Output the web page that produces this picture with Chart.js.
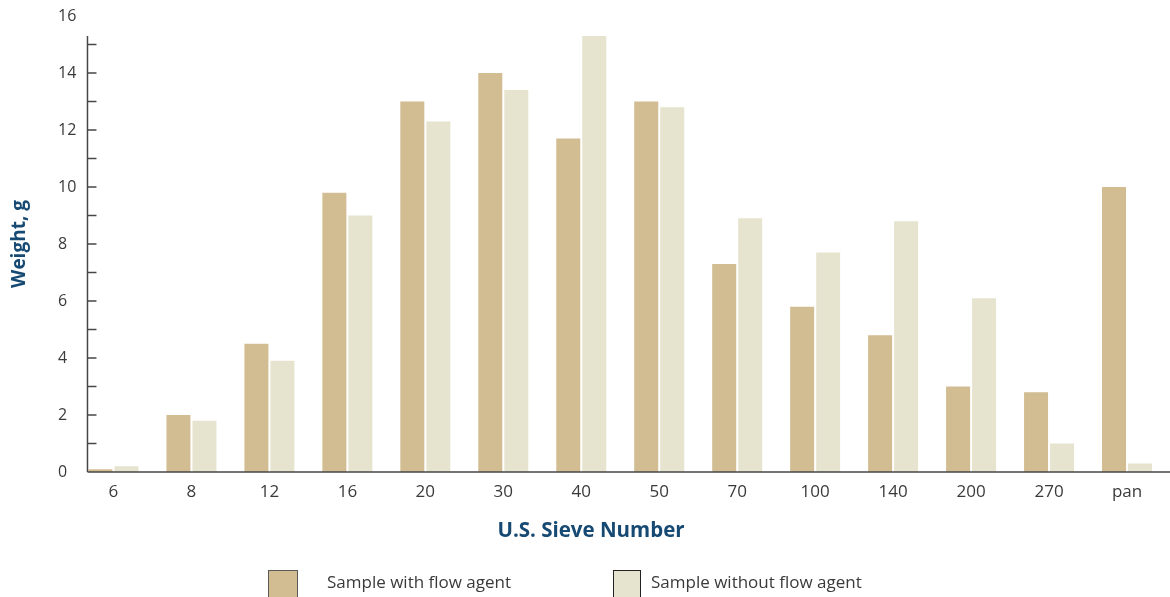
<!DOCTYPE html>
<html>
<head>
<meta charset="utf-8">
<script src="https://cdn.jsdelivr.net/npm/chart.js@4/dist/chart.umd.min.js"></script>
<style>
  html, body { margin: 0; padding: 0; background: #fff; overflow: hidden; }
  #wrap { position: relative; width: 1170px; height: 597px; }
  .legend-item { position: absolute; top: 570px; display: flex; align-items: flex-start;
    font-family: "Open Sans", sans-serif; font-size: 17px; color: #3a3a3a; }
  .legend-box { box-sizing: border-box; height: 30px; }
  .legend-text { line-height: 22px; margin-top: 1px; }
</style>
</head>
<body>
<div id="wrap">
  <canvas id="chart" width="1170" height="597"></canvas>
</div>
<script>
const sieveNumbers = ["6", "8", "12", "16", "20", "30", "40", "50", "70", "100", "140", "200", "270", "pan"];
const withFlowAgent = [0.1, 2.0, 4.5, 9.8, 13.0, 14.0, 11.7, 13.0, 7.3, 5.8, 4.8, 3.0, 2.8, 10.0];
const withoutFlowAgent = [0.2, 1.8, 3.9, 9.0, 12.3, 13.4, 15.3, 12.8, 8.9, 7.7, 8.8, 6.1, 1.0, 0.3];
const seriesNames = ["Sample with flow agent", "Sample without flow agent"];
const seriesColors = ["#d2bc91", "#e6e4ce"];
const xTitle = "U.S. Sieve Number";
const yTitle = "Weight, g";

const NAVY = "#174a73";
const AXIS = "#474747";

// 軸線・目盛り・軸タイトルは自前で描く
const axisPlugin = {
  id: "axisLines",
  afterDatasetsDraw(chart) {
    const { ctx, scales: { y }, chartArea } = chart;
    const first = chart.getDatasetMeta(0).data[0];
    const xLeft = first.x - first.width / 2 - 1;
    const zero = y.getPixelForValue(0);
    const top = y.getPixelForValue(Math.max(...withFlowAgent, ...withoutFlowAgent));

    ctx.save();
    ctx.strokeStyle = AXIS;
    ctx.lineWidth = 1.5;
    ctx.beginPath();
    ctx.moveTo(xLeft, top);
    ctx.lineTo(xLeft, zero);
    ctx.moveTo(xLeft, zero);
    ctx.lineTo(chart.width, zero);
    y.ticks.forEach(t => {
      const py = y.getPixelForValue(t.value);
      if (t.value > 0 && py >= top) {
        ctx.moveTo(xLeft, py);
        ctx.lineTo(xLeft + 9, py);
      }
    });
    ctx.stroke();

    ctx.fillStyle = NAVY;
    ctx.textAlign = "center";
    ctx.textBaseline = "middle";
    ctx.font = "bold 20.5px 'Open Sans'";
    ctx.fillText(xTitle, 591, 531);

    ctx.translate(20, (chartArea.top + chartArea.bottom) / 2);
    ctx.rotate(-Math.PI / 2);
    ctx.font = "bold 19px 'Open Sans'";
    ctx.fillText(yTitle, 0, 0);
    ctx.restore();
  },
};

const chart = new Chart(document.getElementById("chart"), {
  type: "bar",
  data: {
    labels: sieveNumbers,
    datasets: [
      { label: seriesNames[0], data: withFlowAgent, backgroundColor: seriesColors[0] },
      { label: seriesNames[1], data: withoutFlowAgent, backgroundColor: seriesColors[1] },
    ],
  },
  options: {
    responsive: false,
    devicePixelRatio: 1,
    animation: false,
    categoryPercentage: 0.667,
    barPercentage: 0.923,
    layout: { padding: { left: 60, right: 4, top: 16, bottom: 53 } },
    plugins: {
      legend: { display: false },
      tooltip: { enabled: false },
    },
    scales: {
      x: {
        grid: { display: false },
        border: { display: false },
        ticks: {
          color: "#3a3a3a",
          font: { family: "Open Sans", size: 17 },
          padding: 2,
        },
        afterFit(scale) { scale.height = 72; },
      },
      y: {
        min: 0,
        max: 16,
        grid: { display: false },
        border: { display: false },
        ticks: {
          stepSize: 1,
          mirror: true,
          padding: -16.5,
          color: "#3a3a3a",
          font: { family: "Open Sans", size: 16 },
          callback: v => (v % 2 === 0 ? v : ""),
        },
        afterFit(scale) { scale.width = 14.5; },
      },
    },
  },
  plugins: [axisPlugin],
});

// 凡例はHTMLで組み立てる
const legendLayout = [
  { left: 268, boxWidth: 30, gap: 29, border: "#5a5a5a" },
  { left: 613, boxWidth: 28, gap: 10, border: "#222" },
];
chart.data.datasets.forEach((ds, i) => {
  const pos = legendLayout[i];
  const item = document.createElement("div");
  item.className = "legend-item";
  item.style.left = pos.left + "px";
  const box = document.createElement("div");
  box.className = "legend-box";
  box.style.width = pos.boxWidth + "px";
  box.style.background = ds.backgroundColor;
  box.style.border = "1px solid " + pos.border;
  box.style.marginRight = pos.gap + "px";
  const text = document.createElement("span");
  text.className = "legend-text";
  text.textContent = ds.label;
  item.appendChild(box);
  item.appendChild(text);
  document.getElementById("wrap").appendChild(item);
});
</script>
</body>
</html>
